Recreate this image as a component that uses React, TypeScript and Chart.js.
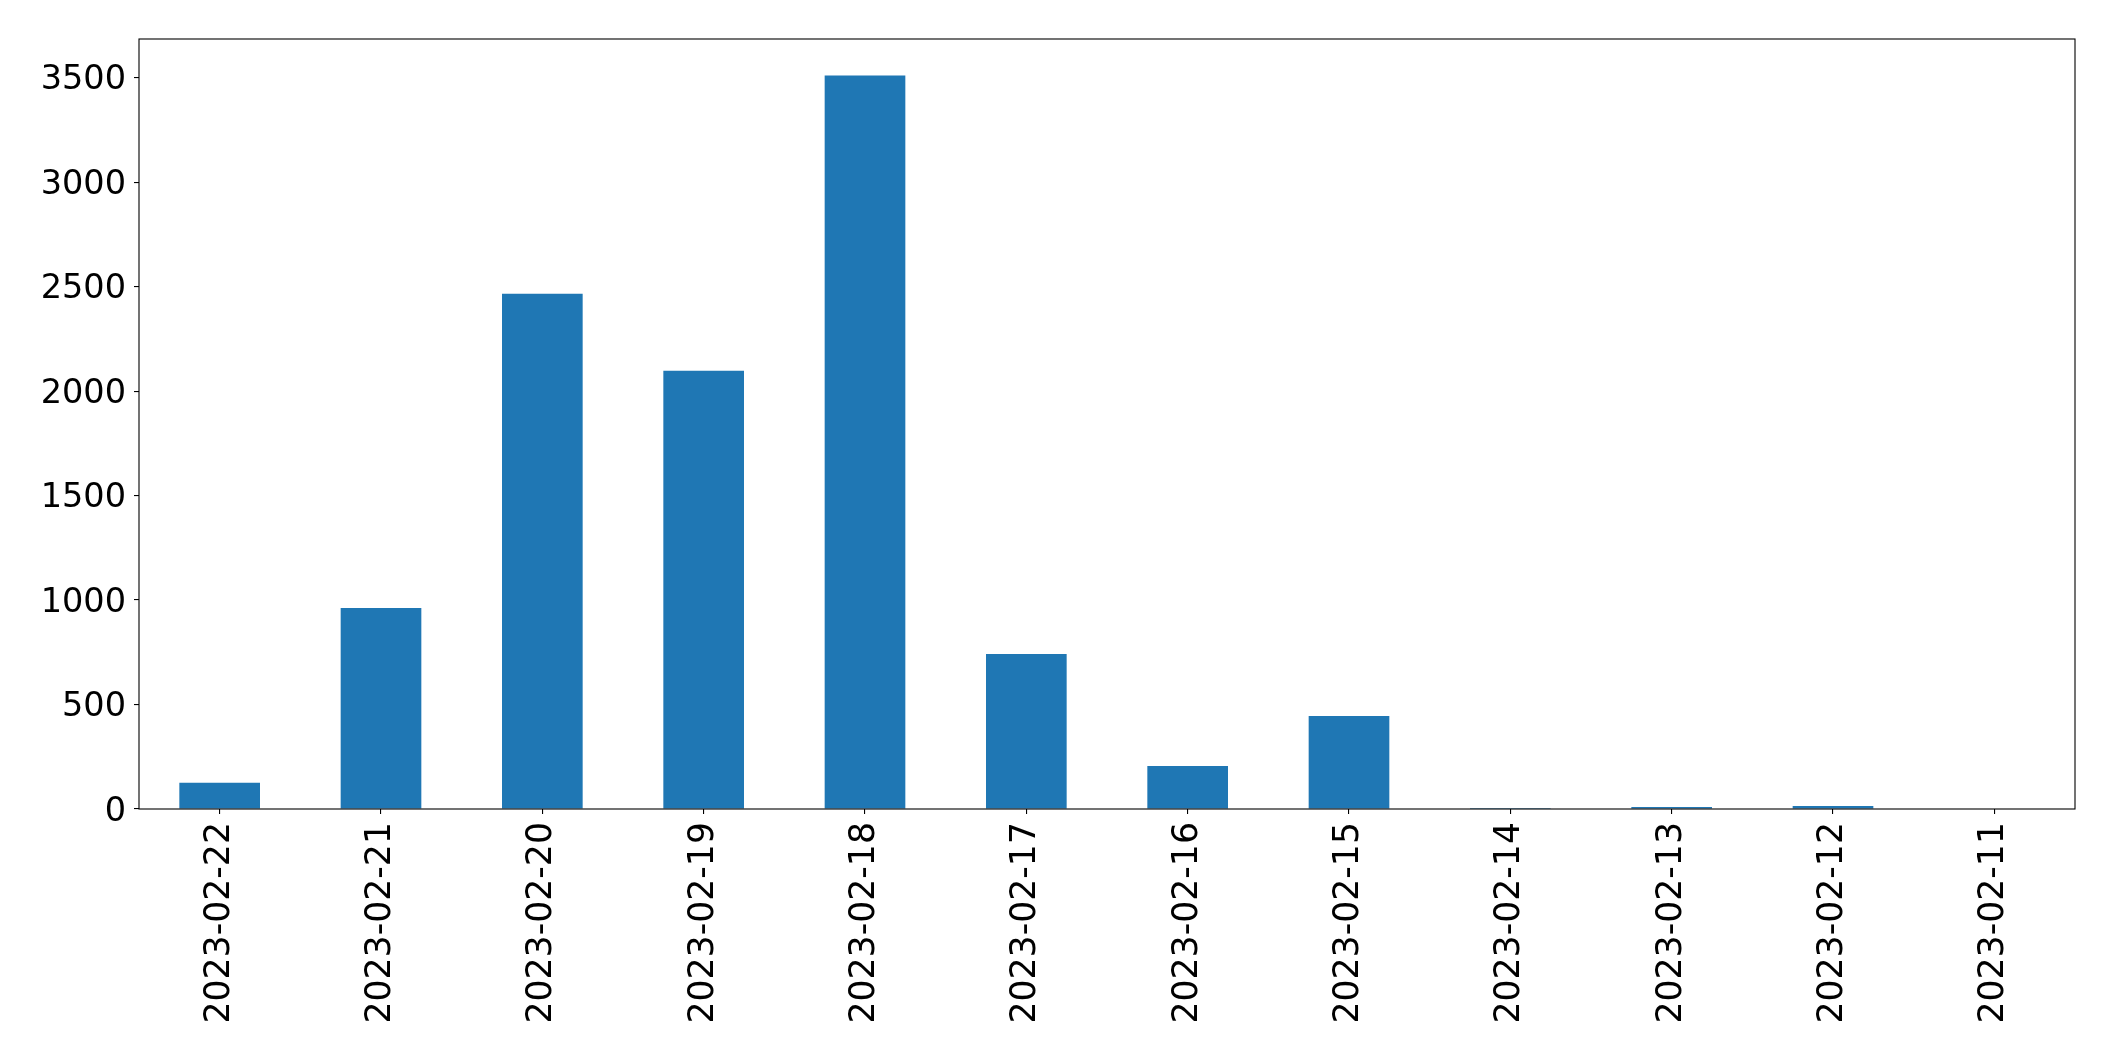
import React, { useEffect, useRef } from "react";
import { Chart, registerables } from "chart.js";

Chart.register(...registerables);

const categories = [
  "2023-02-22",
  "2023-02-21",
  "2023-02-20",
  "2023-02-19",
  "2023-02-18",
  "2023-02-17",
  "2023-02-16",
  "2023-02-15",
  "2023-02-14",
  "2023-02-13",
  "2023-02-12",
  "2023-02-11",
];
const counts = [126, 962, 2466, 2097, 3510, 742, 206, 445, 5, 10, 14, 0];
const yTicks = [0, 500, 1000, 1500, 2000, 2500, 3000, 3500];
const yMax = 3685;

const W = 2115;
const H = 1061;

const framePlugin = {
  id: "frame",
  afterDraw(chart: any) {
    const { ctx, chartArea } = chart;
    ctx.save();
    ctx.strokeStyle = "#000";
    ctx.lineWidth = 1.1;
    ctx.strokeRect(
      chartArea.left,
      chartArea.top,
      chartArea.right - chartArea.left,
      chartArea.bottom - chartArea.top
    );
    ctx.restore();
  },
};

export default function App() {
  const ref = useRef<HTMLCanvasElement | null>(null);

  useEffect(() => {
    if (!ref.current) return;
    const family = "'DejaVu Sans', sans-serif";
    const chart = new Chart(ref.current, {
      type: "bar",
      data: {
        labels: categories,
        datasets: [
          {
            data: counts,
            backgroundColor: "#1f77b4",
            borderWidth: 0,
            barPercentage: 0.5,
            categoryPercentage: 1.0,
          },
        ],
      },
      options: {
        animation: false,
        responsive: false,
        devicePixelRatio: 1,
        layout: { padding: { top: 39, right: 40, left: 0, bottom: 0 } },
        plugins: {
          legend: { display: false },
          tooltip: { enabled: false },
        },
        scales: {
          x: {
            offset: true,
            grid: {
              offset: false,
              drawOnChartArea: false,
              tickLength: 5,
              color: "#000",
              lineWidth: 1.1,
            },
            border: { display: false },
            ticks: {
              minRotation: 90,
              maxRotation: 90,
              autoSkip: false,
              padding: 8,
              color: "#000",
              font: { family, size: 34.7 },
            },
            afterFit: (scale: any) => {
              scale.height = 252;
            },
          },
          y: {
            min: 0,
            max: yMax,
            grid: {
              drawOnChartArea: false,
              tickLength: 5,
              color: "#000",
              lineWidth: 1.1,
            },
            border: { display: false },
            ticks: {
              autoSkip: false,
              padding: 8,
              labelOffset: 3,
              color: "#000",
              font: { family, size: 33.5 },
              callback: (v: any) => String(v),
            },
            afterBuildTicks: (scale: any) => {
              scale.ticks = yTicks.map((v) => ({ value: v }));
            },
            afterFit: (scale: any) => {
              scale.width = 139;
            },
          },
        },
      },
      plugins: [framePlugin],
    });
    return () => chart.destroy();
  }, []);

  return (
    <div
      style={{
        position: "fixed",
        left: 0,
        top: 0,
        width: W,
        height: H,
        background: "#fff",
      }}
    >
      <canvas ref={ref} width={W} height={H} style={{ width: W, height: H }} />
    </div>
  );
}
